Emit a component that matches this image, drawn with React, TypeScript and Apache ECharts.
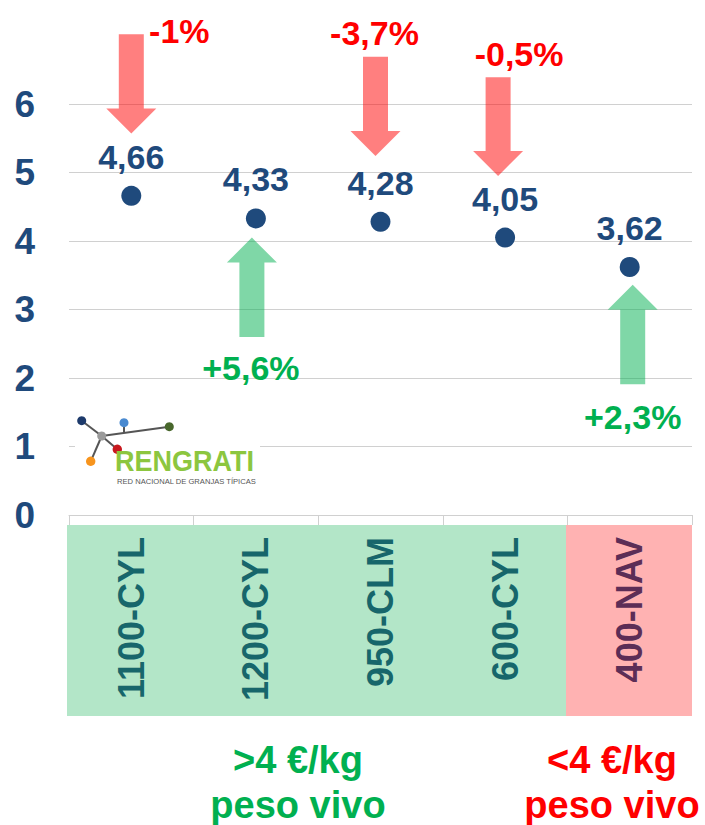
import React, { useEffect, useRef } from "react";
import * as echarts from "echarts";

// ---- data ----
const categories = ["1100-CYL", "1200-CYL", "950-CLM", "600-CYL", "400-NAV"];
const values = [4.66, 4.33, 4.28, 4.05, 3.62];
const yMin = 0;
const yMax = 6;
const yInterval = 1;

// change annotations (arrow from value -> to value, per category)
const changeCats = [0, 1, 2, 3, 4];
const changeFrom = [7.02, 2.6, 6.69, 6.39, 1.91];
const changeTo = [5.57, 4.05, 5.24, 4.95, 3.36];
const changeLabels = ["-1%", "+5,6%", "-3,7%", "-0,5%", "+2,3%"];
const changeLabelAt = [7.07, 2.15, 7.04, 6.73, 1.43];

const groupTop = [">4 €/kg", "<4 €/kg"];
const groupBottom = ["peso vivo", "peso vivo"];

// ---- styles ----
const FONT = "'Liberation Sans', Arial, Helvetica, sans-serif";
const NAVY = "#1f4a7c";
const arrowNudge = [0, -4, -5, -7, 3];
const labelNudge = [48, -5, -6, 14, 3];

export default function App() {
  const ref = useRef<HTMLDivElement>(null);

  useEffect(() => {
    if (!ref.current) return;
    const chart = echarts.init(ref.current, null, { renderer: "svg" });

    const annData = changeCats.map((c, i) => [c, changeFrom[i], changeTo[i], changeLabelAt[i]]);

    const option: any = {
      animation: false,
      backgroundColor: "#ffffff",
      grid: { left: 69, right: 13, top: 104, bottom: 310 },
      xAxis: {
        type: "category",
        data: categories,
        boundaryGap: true,
        z: 5,
        axisLine: { show: true, lineStyle: { color: "#d0d0d0", width: 1 } },
        axisTick: { show: true, length: 10, lineStyle: { color: "#d0d0d0" } },
        axisLabel: {
          rotate: 90,
          margin: 22,
          fontSize: 36,
          fontWeight: "bold",
          fontFamily: FONT,
          color: (_v: any, idx: number) => (idx === 4 ? "#5c2d56" : "#17666b"),
        },
        splitLine: { show: false },
      },
      yAxis: {
        type: "value",
        min: yMin,
        max: yMax,
        interval: yInterval,
        axisLine: { show: false },
        axisTick: { show: false },
        axisLabel: {
          margin: 34,
          fontSize: 37,
          fontWeight: "bold",
          fontFamily: FONT,
          color: NAVY,
        },
        splitLine: { show: true, lineStyle: { color: "#d0d0d0", width: 1 } },
      },
      graphic: [
        // group background boxes
        { type: "rect", z: 1, shape: { x: 67, y: 525, width: 499, height: 191 }, style: { fill: "#b3e6c8" } },
        { type: "rect", z: 1, shape: { x: 566, y: 525, width: 126, height: 191 }, style: { fill: "#ffb2b2" } },
        // logo background
        { type: "rect", z: 10, shape: { x: 75, y: 410, width: 185, height: 80 }, style: { fill: "#ffffff" } },
        // logo network
        { type: "line", z: 11, shape: { x1: 81.7, y1: 420.7, x2: 101.7, y2: 436 }, style: { stroke: "#555", lineWidth: 2 } },
        { type: "line", z: 11, shape: { x1: 101.7, y1: 436, x2: 90.7, y2: 461.3 }, style: { stroke: "#555", lineWidth: 2 } },
        { type: "line", z: 11, shape: { x1: 101.7, y1: 436, x2: 117.3, y2: 449.3 }, style: { stroke: "#555", lineWidth: 2 } },
        { type: "line", z: 11, shape: { x1: 101.7, y1: 436, x2: 169.3, y2: 426.7 }, style: { stroke: "#555", lineWidth: 2 } },
        { type: "line", z: 11, shape: { x1: 124, y1: 422.7, x2: 124, y2: 432.8 }, style: { stroke: "#555", lineWidth: 2 } },
        { type: "circle", z: 12, shape: { cx: 81.7, cy: 420.7, r: 4.5 }, style: { fill: "#1d3a6b" } },
        { type: "circle", z: 12, shape: { cx: 101.7, cy: 436, r: 4.5 }, style: { fill: "#9a9a9a" } },
        { type: "circle", z: 12, shape: { cx: 124, cy: 422.7, r: 4.5 }, style: { fill: "#4a8ad0" } },
        { type: "circle", z: 12, shape: { cx: 169.3, cy: 426.7, r: 4.5 }, style: { fill: "#48672c" } },
        { type: "circle", z: 12, shape: { cx: 117.3, cy: 449.3, r: 4.7 }, style: { fill: "#c8181e" } },
        { type: "circle", z: 12, shape: { cx: 90.7, cy: 461.3, r: 4.7 }, style: { fill: "#f7941d" } },
        {
          type: "text", z: 12, x: 115, y: 461, scaleY: 1.1,
          style: { text: "RENGRATI", fill: "#8cc63f", fontSize: 27, fontWeight: "bold", fontFamily: FONT, align: "left", verticalAlign: "middle" },
        },
        {
          type: "text", z: 12, x: 117, y: 481,
          style: { text: "RED NACIONAL DE GRANJAS TÍPICAS", fill: "#555555", fontSize: 7.6, fontFamily: FONT, align: "left", verticalAlign: "middle" },
        },
        // group captions
        {
          type: "text", z: 12, x: 298, y: 760,
          style: { text: groupTop[0], fill: "#00b050", fontSize: 38, fontWeight: "bold", fontFamily: FONT, align: "center", verticalAlign: "middle" },
        },
        {
          type: "text", z: 12, x: 298, y: 805,
          style: { text: groupBottom[0], fill: "#00b050", fontSize: 38, fontWeight: "bold", fontFamily: FONT, align: "center", verticalAlign: "middle" },
        },
        {
          type: "text", z: 12, x: 612, y: 760,
          style: { text: groupTop[1], fill: "#ff0000", fontSize: 38, fontWeight: "bold", fontFamily: FONT, align: "center", verticalAlign: "middle" },
        },
        {
          type: "text", z: 12, x: 612, y: 805,
          style: { text: groupBottom[1], fill: "#ff0000", fontSize: 38, fontWeight: "bold", fontFamily: FONT, align: "center", verticalAlign: "middle" },
        },
      ],
      series: [
        {
          type: "custom",
          clip: false,
          z: 3,
          data: annData,
          renderItem: (params: any, api: any) => {
            const i = params.dataIndex;
            const cat = api.value(0);
            const tail = api.coord([cat, api.value(1)]);
            const tip = api.coord([cat, api.value(2)]);
            const lab = api.coord([cat, api.value(3)]);
            const cx = tail[0] + arrowNudge[i];
            const yT = tail[1];
            const yP = tip[1];
            const s = yP > yT ? 1 : -1;
            const sh = yP - s * 25;
            const down = s === 1;
            const fill = down ? "rgba(255,0,0,0.5)" : "rgba(0,176,80,0.5)";
            return {
              type: "group",
              children: [
                {
                  type: "polygon",
                  shape: {
                    points: [
                      [cx - 12.5, yT],
                      [cx + 12.5, yT],
                      [cx + 12.5, sh],
                      [cx + 25, sh],
                      [cx, yP],
                      [cx - 25, sh],
                      [cx - 12.5, sh],
                    ],
                  },
                  style: { fill },
                },
                {
                  type: "text",
                  style: {
                    text: changeLabels[i],
                    x: lab[0] + labelNudge[i],
                    y: lab[1],
                    fill: down ? "#ff0000" : "#00b050",
                    fontSize: 34,
                    fontWeight: "bold",
                    fontFamily: FONT,
                    align: "center",
                    verticalAlign: "middle",
                  },
                },
              ],
            };
          },
        },
        {
          type: "scatter",
          z: 4,
          data: values,
          symbol: "circle",
          symbolSize: 20,
          itemStyle: { color: NAVY, opacity: 1 },
          label: {
            show: true,
            position: "top",
            distance: 12,
            fontSize: 34,
            fontWeight: "bold",
            fontFamily: FONT,
            color: NAVY,
            opacity: 1,
            formatter: (p: any) => Number(p.value).toFixed(2).replace(".", ","),
          },
        },
      ],
    };

    chart.setOption(option);
    return () => chart.dispose();
  }, []);

  return <div ref={ref} style={{ width: 705, height: 825, position: "absolute", left: 0, top: 0 }} />;
}
